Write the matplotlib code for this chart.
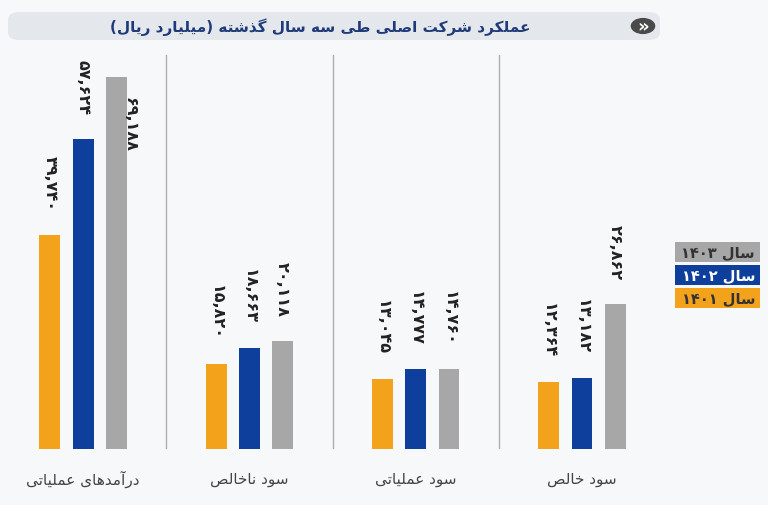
import matplotlib
matplotlib.use("Agg")
import matplotlib.pyplot as plt
from matplotlib.patches import FancyBboxPatch, Rectangle, Circle

categories = ["درآمدهای عملیاتی", "سود ناخالص", "سود عملیاتی", "سود خالص"]
series_names = ["سال ۱۴۰۱", "سال ۱۴۰۲", "سال ۱۴۰۳"]
v1401 = [39740, 15820, 13045, 12364]
v1402 = [57624, 18663, 14777, 13182]
v1403 = [69188, 20118, 14760, 26862]
title = "عملکرد شرکت اصلی طی سه سال گذشته (میلیارد ریال)"
colors = ["#F3A21C", "#0E3F9C", "#A7A7A7"]

# --- minimal Persian shaping ---
FORMS = {
 'ا': (0xFE8D, 0xFE8E, None, None), 'آ': (0xFE81, 0xFE82, None, None),
 'د': (0xFEA9, 0xFEAA, None, None), 'ذ': (0xFEAB, 0xFEAC, None, None),
 'ر': (0xFEAD, 0xFEAE, None, None), 'ز': (0xFEAF, 0xFEB0, None, None),
 'و': (0xFEED, 0xFEEE, None, None),
 'ب': (0xFE8F, 0xFE90, 0xFE91, 0xFE92), 'ت': (0xFE95, 0xFE96, 0xFE97, 0xFE98),
 'خ': (0xFEA5, 0xFEA6, 0xFEA7, 0xFEA8), 'س': (0xFEB1, 0xFEB2, 0xFEB3, 0xFEB4),
 'ش': (0xFEB5, 0xFEB6, 0xFEB7, 0xFEB8), 'ص': (0xFEB9, 0xFEBA, 0xFEBB, 0xFEBC),
 'ط': (0xFEC1, 0xFEC2, 0xFEC3, 0xFEC4), 'ع': (0xFEC9, 0xFECA, 0xFECB, 0xFECC),
 'ل': (0xFEDD, 0xFEDE, 0xFEDF, 0xFEE0), 'م': (0xFEE1, 0xFEE2, 0xFEE3, 0xFEE4),
 'ن': (0xFEE5, 0xFEE6, 0xFEE7, 0xFEE8), 'ه': (0xFEE9, 0xFEEA, 0xFEEB, 0xFEEC),
 'ک': (0xFB8E, 0xFB8F, 0xFB90, 0xFB91), 'گ': (0xFB92, 0xFB93, 0xFB94, 0xFB95),
 'ی': (0xFBFC, 0xFBFD, 0xFBFE, 0xFBFF),
}
def joins_next(c):
    return c in FORMS and FORMS[c][2] is not None
def shape_word(w):
    out = []
    for i, c in enumerate(w):
        if c not in FORMS:
            out.append(c); continue
        prev = w[i-1] if i > 0 else None
        nxt = w[i+1] if i+1 < len(w) else None
        jp = prev is not None and joins_next(prev)
        jn = nxt is not None and nxt in FORMS and joins_next(c)
        iso, fin, ini, med = FORMS[c]
        if jp and jn: code = med
        elif jp: code = fin
        elif jn: code = ini
        else: code = iso
        out.append(chr(code))
    return ''.join(out)
MIRROR = {'(': ')', ')': '('}
def fa(s):
    shaped = shape_word(s)
    runs, cur, isd = [], '', None
    for ch in shaped:
        d = ch.isdigit() or (ch == ',' and cur and isd)
        if isd is None or d == isd:
            cur += ch
        else:
            runs.append((cur, isd)); cur = ch
        isd = d
    if cur: runs.append((cur, isd))
    res = ''
    for txt, dg in reversed(runs):
        res += txt if dg else ''.join(MIRROR.get(c, c) for c in reversed(txt))
    return res
def fdig(n):
    s = f"{n:,}"
    return s.translate(str.maketrans("0123456789", "۰۱۲۳۴۵۶۷۸۹"))

fig = plt.figure(figsize=(7.68, 5.06), dpi=100)
fig.patch.set_facecolor("#F7F8FA")
ax = fig.add_axes([0, 0.111, 0.866, 394/506])
ax.set_xlim(0, 4)
ymax = 69188 * 394 / 372
ax.set_ylim(0, ymax)
ax.axis("off")
offs = [-0.2, 0, 0.2]
for si, vals in enumerate([v1401, v1402, v1403]):
    xs = [i + 0.5 + offs[si] for i in range(4)]
    ax.bar(xs, vals, width=0.125, color=colors[si], edgecolor="none")
    for x, v in zip(xs, vals):
        if v > 0.8 * ymax:
            ax.annotate(fdig(v), (x + 0.04, v), xytext=(0, -14), textcoords="offset points",
                        rotation=-90, ha="left", va="top", fontsize=11.5,
                        fontweight="bold", color="#222222")
        else:
            ax.annotate(fdig(v), (x, v), xytext=(0, 18), textcoords="offset points",
                        rotation=-90, ha="center", va="bottom", fontsize=11.5,
                        fontweight="bold", color="#222222")
for i in range(1, 4):
    ax.axvline(i, ymin=0, ymax=1, color="#B0B0B0", lw=1)
for i, c in enumerate(categories):
    ax.text(i + 0.5, -0.075 * ymax, fa(c), ha="center", va="center",
            fontsize=11, color="#444444")

# title banner
fig.patches.append(FancyBboxPatch((8/768, 1-41/506), 652/768, 28/506,
    boxstyle="round,pad=0,rounding_size=0.015", transform=fig.transFigure,
    facecolor="#E4E7EC", edgecolor="none"))
fig.text(320/768, 1-27/506, fa(title), ha="center", va="center", fontsize=11,
         fontweight="bold", color="#1F3A78")
fig.patches.append(Circle((643/768, 1-27/506), 0.016, transform=fig.transFigure,
                          facecolor="#4A4A4A", edgecolor="none"))
fig.text(643/768, 1-27.5/506, "»", ha="center", va="center", fontsize=13,
         fontweight="bold", color="white")

# legend
leg = [(series_names[2], colors[2], "#333333", 243),
       (series_names[1], colors[1], "white", 266),
       (series_names[0], colors[0], "#333333", 289)]
for name, col, tc, ytop in leg:
    fig.patches.append(Rectangle((675/768, 1-(ytop+20)/506), 85/768, 20/506,
                       transform=fig.transFigure, facecolor=col, edgecolor="none"))
    fig.text(755/768, 1-(ytop+10)/506, fa(name), ha="right", va="center",
             fontsize=10.5, fontweight="bold", color=tc)

fig.savefig("out.png", dpi=100, facecolor=fig.get_facecolor())
